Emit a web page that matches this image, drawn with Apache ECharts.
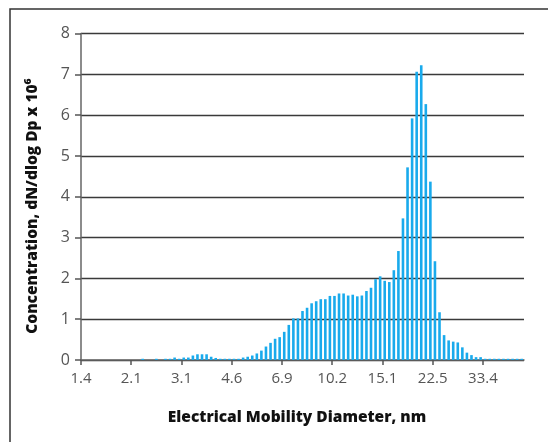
<!DOCTYPE html>
<html><head><meta charset="utf-8">
<script src="https://cdn.jsdelivr.net/npm/echarts@6/dist/echarts.min.js"></script>
<style>html,body{margin:0;padding:0;background:#fff}#c{width:548px;height:442px}</style>
</head><body><div id="c"></div>
<script>
// x tick labels (electrical mobility diameter, nm); one label every 11 size channels
const tickLabels = ['1.4', '2.1', '3.1', '4.6', '6.9', '10.2', '15.1', '22.5', '33.4'];
const channelsPerTick = 11;
const channelCount = 97;
// concentration per size channel, dN/dlog Dp x 10^6
const concentration = [
  0, 0, 0, 0, 0, 0, 0, 0, 0, 0, 0, 0, 0,
  0.03, 0, 0, 0.03, 0, 0.03, 0.03, 0.06, 0.03, 0.06, 0.06, 0.11, 0.14, 0.14, 0.14, 0.08, 0.05,
  0.03, 0.03, 0.03, 0.03, 0.03, 0.06, 0.08, 0.11, 0.16, 0.23, 0.33, 0.42, 0.52, 0.56, 0.69, 0.86,
  1.02, 1.02, 1.2, 1.28, 1.39, 1.44, 1.49, 1.49, 1.57, 1.57, 1.63, 1.63, 1.58, 1.6, 1.56, 1.58,
  1.69, 1.77, 1.98, 2.05, 1.94, 1.91, 2.2, 2.67, 3.47, 4.72, 5.92, 7.06, 7.22, 6.27, 4.37, 2.42,
  1.17, 0.61, 0.48, 0.45, 0.43, 0.31, 0.18, 0.12, 0.07, 0.07,
  0.03, 0.03, 0.03, 0.03, 0.03, 0.03, 0.03, 0.03, 0.03
];
const yMax = 8;
const xTitle = 'Electrical Mobility Diameter, nm';
const yTitle = 'Concentration, dN/dlog Dp x 10⁶';

const tickPositions = tickLabels.map((_, k) => k * channelsPerTick);
const chart = echarts.init(document.getElementById('c'), null, {renderer: 'canvas'});
chart.setOption({
  animation: false,
  backgroundColor: '#fff',
  grid: {left: 81, right: 24, top: 33.5, bottom: 82, containLabel: false},
  xAxis: {
    type: 'value', min: 0, max: channelCount,
    axisLine: {show: true, lineStyle: {color: '#666', width: 1.5}},
    axisTick: {show: true, customValues: tickPositions, length: 5, lineStyle: {color: '#555', width: 1.5}},
    axisLabel: {
      customValues: tickPositions, margin: 11, color: '#555', fontSize: 15, fontFamily: 'Open Sans',
      formatter: v => tickLabels[Math.round(v / channelsPerTick)] || ''
    },
    splitLine: {show: false}
  },
  yAxis: {
    type: 'value', min: 0, max: yMax, interval: 1,
    axisLine: {show: true, lineStyle: {color: '#666', width: 1.5}},
    axisTick: {show: true, length: 6, lineStyle: {color: '#555', width: 1.5}},
    axisLabel: {margin: 11, color: '#555', fontSize: 16, fontFamily: 'Open Sans'},
    splitLine: {show: true, lineStyle: {color: '#3a3a3a', width: 1.3}}
  },
  series: [{
    type: 'bar',
    data: concentration.map((v, i) => [i + 0.5, v]),
    barWidth: 2.6,
    itemStyle: {color: '#19aaec'}
  }],
  graphic: [
    {type: 'rect', shape: {x: 10, y: 9, width: 700, height: 600},
     style: {fill: 'none', stroke: '#333', lineWidth: 1.5}, silent: true},
    {type: 'text', x: 297, y: 418,
     style: {text: xTitle, font: '800 15.5px "Open Sans"', fill: '#111', textAlign: 'center', textVerticalAlign: 'middle'}},
    {type: 'text', x: 33, y: 206, rotation: Math.PI / 2,
     style: {text: yTitle, font: '800 15.5px "Open Sans"', fill: '#111', textAlign: 'center', textVerticalAlign: 'middle'}}
  ]
});
</script></body></html>
